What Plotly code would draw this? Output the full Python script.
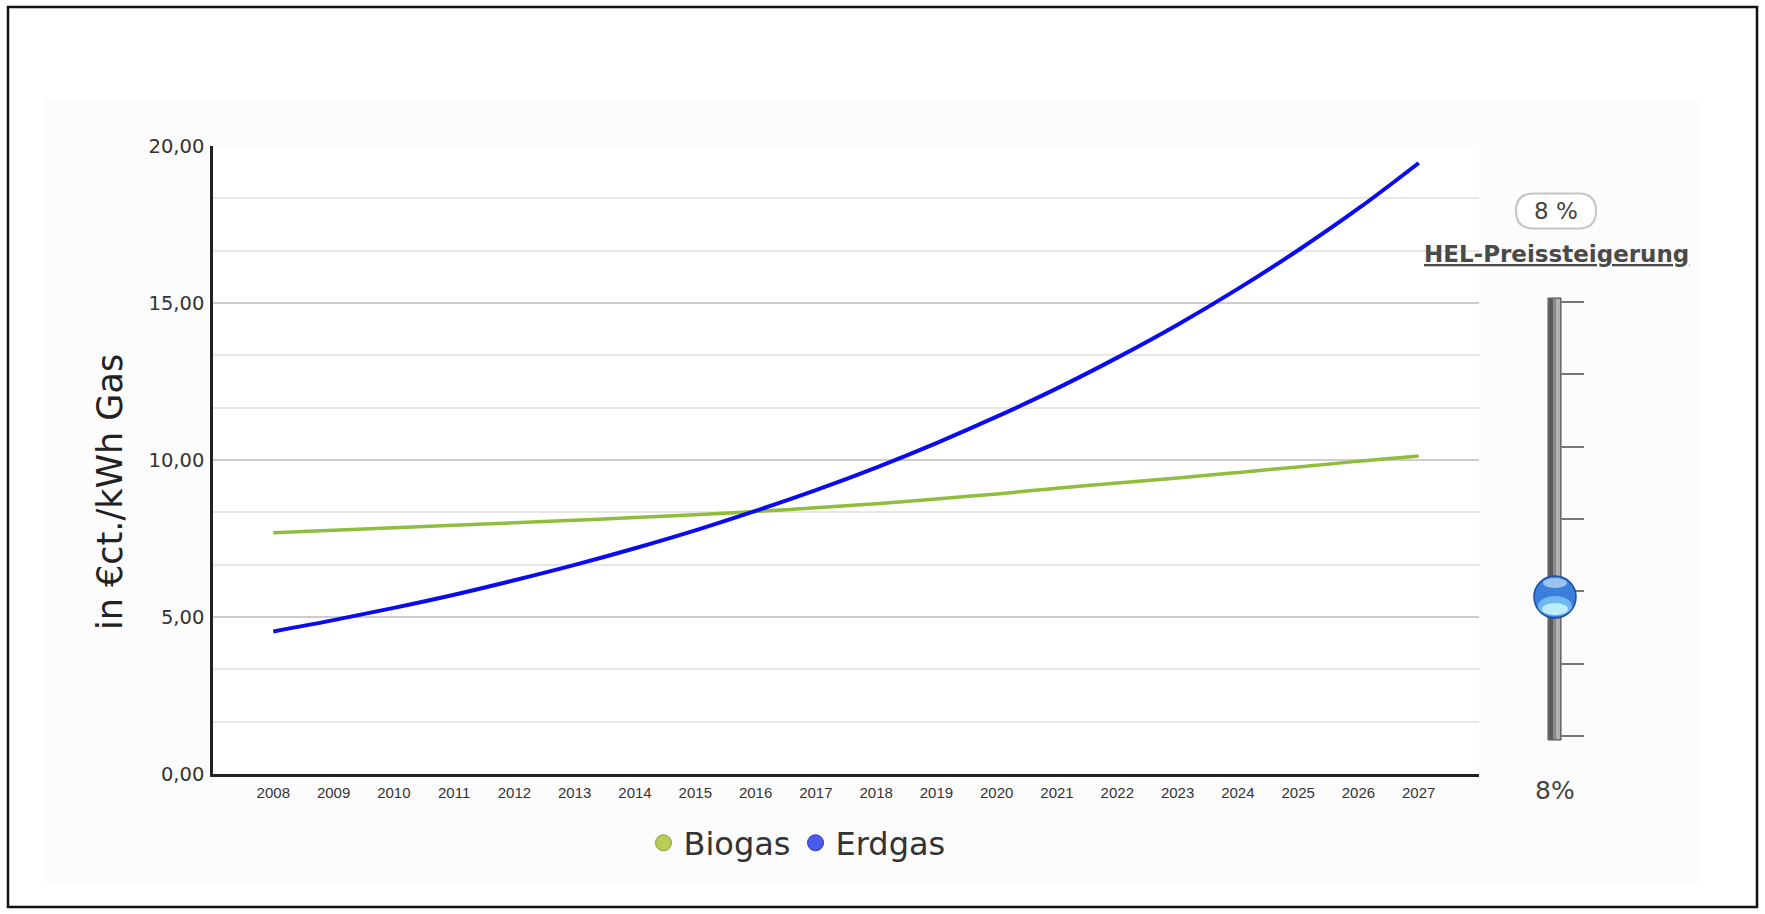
import plotly.graph_objects as go

# ---- data ----
years = [2008, 2009, 2010, 2011, 2012, 2013, 2014, 2015, 2016, 2017,
         2018, 2019, 2020, 2021, 2022, 2023, 2024, 2025, 2026, 2027]
biogas = [7.68, 7.76, 7.84, 7.92, 8.00, 8.08, 8.17, 8.26, 8.36, 8.48,
          8.61, 8.76, 8.92, 9.10, 9.27, 9.43, 9.60, 9.78, 9.96, 10.13]
erdgas = [4.54, 4.90, 5.29, 5.71, 6.17, 6.66, 7.19, 7.76, 8.38, 9.04,
          9.76, 10.54, 11.38, 12.28, 13.26, 14.31, 15.45, 16.68, 18.01, 19.46]
y_tickvals = [0, 5, 10, 15, 20]
y_ticktext = ["0,00", "5,00", "10,00", "15,00", "20,00"]
series_names = ["Biogas", "Erdgas"]
slider_value = "8%"
slider_label = "HEL-Preissteigerung"
y_title = "in €ct./kWh Gas"

W, H = 1765, 914
L, R, T, B = 213, 1479, 146, 774  # plot area in pixels


def px(x):
    return (x - L) / (R - L)


def py(y):
    return (B - y) / (B - T)


GREEN = "#8fbd3c"
BLUE = "#0b0bf0"

fig = go.Figure()
fig.add_trace(go.Scatter(x=years, y=biogas, mode="lines", name=series_names[0],
                         line=dict(color=GREEN, width=3.5, shape="spline"),
                         showlegend=False, hoverinfo="x+y"))
fig.add_trace(go.Scatter(x=years, y=erdgas, mode="lines", name=series_names[1],
                         line=dict(color=BLUE, width=4, shape="spline"),
                         showlegend=False, hoverinfo="x+y"))
# legend entries (ball symbols)
fig.add_trace(go.Scatter(x=[None], y=[None], mode="markers", name=series_names[0],
                         marker=dict(symbol="circle", size=16, color="#b8cc58",
                                     line=dict(color="#8aa040", width=1))))
fig.add_trace(go.Scatter(x=[None], y=[None], mode="markers", name=series_names[1],
                         marker=dict(symbol="circle", size=16, color="#4a5cf0",
                                     line=dict(color="#2a36b0", width=1))))

shapes = []
# outer frame
shapes.append(dict(type="rect", xref="paper", yref="paper",
                   x0=px(8), x1=px(1757), y0=py(907), y1=py(7),
                   line=dict(color="#111", width=2.5), fillcolor="white", layer="below"))
# faint panel
shapes.append(dict(type="rect", xref="paper", yref="paper",
                   x0=px(45), x1=px(1698), y0=py(884), y1=py(98),
                   line=dict(width=0), fillcolor="#fcfcfc", layer="below"))
# white plot area
shapes.append(dict(type="rect", xref="paper", yref="paper",
                   x0=0, x1=1, y0=0, y1=1,
                   line=dict(width=0), fillcolor="white", layer="below"))

# pill around slider value
cx, cy, pw, ph = 1556, 211, 80, 35
r = ph / 2
x0, x1 = cx - pw / 2, cx + pw / 2
y0, y1 = cy - ph / 2, cy + ph / 2
path = (f"M {px(x0 + r)},{py(y0)} L {px(x1 - r)},{py(y0)} "
        f"Q {px(x1)},{py(y0)} {px(x1)},{py(cy)} "
        f"Q {px(x1)},{py(y1)} {px(x1 - r)},{py(y1)} "
        f"L {px(x0 + r)},{py(y1)} "
        f"Q {px(x0)},{py(y1)} {px(x0)},{py(cy)} "
        f"Q {px(x0)},{py(y0)} {px(x0 + r)},{py(y0)} Z")
shapes.append(dict(type="path", xref="paper", yref="paper", path=path,
                   line=dict(color="#c4c4c4", width=2), fillcolor="white", layer="above"))

# slider track
tt, tb = 298, 740
shapes.append(dict(type="rect", xref="paper", yref="paper",
                   x0=px(1548), x1=px(1561), y0=py(tb), y1=py(tt),
                   line=dict(color="#4a4a4a", width=1), fillcolor="#8a8a8a", layer="above"))
shapes.append(dict(type="rect", xref="paper", yref="paper",
                   x0=px(1549), x1=px(1553), y0=py(tb - 1), y1=py(tt + 1),
                   line=dict(width=0), fillcolor="#5a5a5a", layer="above"))
shapes.append(dict(type="rect", xref="paper", yref="paper",
                   x0=px(1556), x1=px(1560), y0=py(tb - 1), y1=py(tt + 1),
                   line=dict(width=0), fillcolor="#b2b2b2", layer="above"))
for ty in [302, 374, 447, 519, 591, 664, 736]:
    shapes.append(dict(type="line", xref="paper", yref="paper",
                       x0=px(1561), x1=px(1584), y0=py(ty), y1=py(ty),
                       line=dict(color="#777", width=2), layer="above"))
# knob
kx, ky = 1555, 597
shapes.append(dict(type="circle", xref="paper", yref="paper",
                   x0=px(kx - 21), x1=px(kx + 21), y0=py(ky + 21), y1=py(ky - 21),
                   line=dict(color="#1f4f9f", width=1.5), fillcolor="#3a7fdc", layer="above"))
shapes.append(dict(type="circle", xref="paper", yref="paper",
                   x0=px(kx - 17), x1=px(kx + 17), y0=py(ky + 19), y1=py(ky - 1),
                   line=dict(width=0), fillcolor="#6fb8f2", layer="above"))
shapes.append(dict(type="circle", xref="paper", yref="paper",
                   x0=px(kx - 13), x1=px(kx + 13), y0=py(ky + 18), y1=py(ky + 6),
                   line=dict(width=0), fillcolor="#bdeeff", layer="above"))
shapes.append(dict(type="circle", xref="paper", yref="paper",
                   x0=px(kx - 12), x1=px(kx + 12), y0=py(ky - 9), y1=py(ky - 19),
                   line=dict(width=0), fillcolor="#9cc2f0", layer="above"))

annotations = [
    dict(text=y_title, xref="paper", yref="paper", x=px(110), y=py(492),
         textangle=-90, showarrow=False, xanchor="center", yanchor="middle",
         font=dict(family="DejaVu Sans", size=35, color="#222")),
    dict(text="8 %", xref="paper", yref="paper", x=px(1556), y=py(211),
         showarrow=False, xanchor="center", yanchor="middle",
         font=dict(family="DejaVu Sans", size=23, color="#444")),
    dict(text="<u>" + slider_label + "</u>", xref="paper", yref="paper",
         x=px(1556), y=py(254), showarrow=False, xanchor="center", yanchor="middle",
         font=dict(family="DejaVu Sans", size=23, color="#4a4a4a", weight="bold")),
    dict(text=slider_value, xref="paper", yref="paper", x=px(1555), y=py(790),
         showarrow=False, xanchor="center", yanchor="middle",
         font=dict(family="DejaVu Sans", size=25, color="#444")),
]

fig.update_layout(
    width=W, height=H,
    margin=dict(l=L, r=W - R, t=T, b=H - B, pad=0),
    paper_bgcolor="white", plot_bgcolor="white",
    shapes=shapes, annotations=annotations,
    showlegend=True,
    legend=dict(orientation="h", x=px(797), y=py(843), xanchor="center", yanchor="middle",
                font=dict(family="DejaVu Sans", size=32, color="#333"),
                itemwidth=30, bgcolor="rgba(0,0,0,0)", traceorder="normal"),
    xaxis=dict(range=[2007, 2028], tickmode="array", tickvals=years,
               ticktext=[str(y) for y in years], showgrid=False, zeroline=False,
               showline=True, linecolor="#222", linewidth=3, ticks="",
               tickfont=dict(family="Liberation Sans", size=15, color="#333"),
               ticklabelstandoff=3),
    yaxis=dict(range=[0, 20], tickmode="array", tickvals=y_tickvals, ticktext=y_ticktext,
               showgrid=True, gridcolor="#cdcdcd", gridwidth=2, zeroline=False,
               showline=True, linecolor="#222", linewidth=2.5, ticks="",
               tickfont=dict(family="DejaVu Sans", size=19.5, color="#333"),
               ticklabelstandoff=2,
               minor=dict(tickmode="linear", tick0=0, dtick=5 / 3, showgrid=True,
                          gridcolor="#e6e6e6", gridwidth=1.5, ticks="")),
)

fig.write_html("out.html")
